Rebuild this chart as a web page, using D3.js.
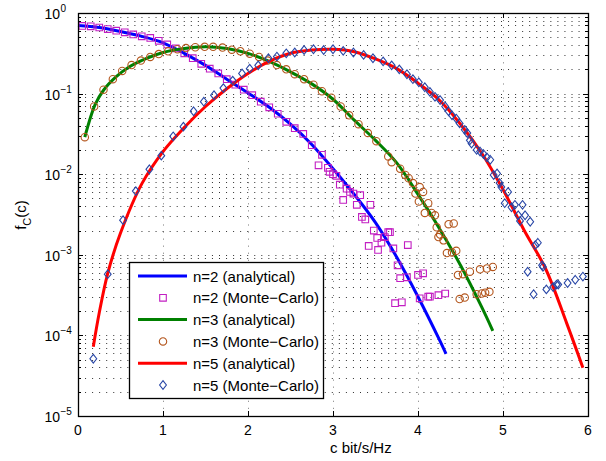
<!DOCTYPE html>
<html><head><meta charset="utf-8">
<script src="https://cdn.jsdelivr.net/npm/d3@7"></script>
<style>body{margin:0;background:#fff} text{font-family:"Liberation Sans",Arial,Helvetica,sans-serif;fill:#000}</style>
</head><body><svg id="c" width="606" height="461"></svg>
<script>
// ---- tick labels ----
const xTickValues = [0,1,2,3,4,5,6];
const xTickLabels = ["0","1","2","3","4","5","6"];
const yTickExps = [0,-1,-2,-3,-4,-5];
const xLabel = "c bit/s/Hz";
const legendLabels = ["n=2 (analytical)","n=2 (Monte\u2212Carlo)","n=3 (analytical)","n=3 (Monte\u2212Carlo)","n=5 (analytical)","n=5 (Monte\u2212Carlo)"];

// ---- n=2 ----
const n2AnalyticX = [0,0.25,0.5,0.75,1.0,1.25,1.5,1.75,2.0,2.25,2.5,2.75,3.0,3.25,3.5,3.75,4.0,4.25,4.33];
const n2AnalyticY = [0.700,0.661,0.589,0.513,0.427,0.316,0.224,0.151,0.102,0.0676,0.0417,0.0234,0.0117,5.62e-3,2.51e-3,9.33e-4,3.02e-4,8.91e-5,5.89e-5];
const n2McX = [0.05,0.15,0.25,0.35,0.45,0.55,0.65,0.75,0.85,0.95,1.05,1.15,1.25,1.35,1.45,1.55,1.65,1.75,1.85,1.95,2.05,2.15,2.25,2.35,2.45,2.55,2.65,2.75,
  2.83,2.87,2.94,2.96,3.00,3.04,3.08,3.12,3.16,3.20,3.24,3.28,3.32,3.34,3.38,3.42,3.44,3.48,3.52,3.53,3.57,3.61,3.65,3.67,3.71,3.73,3.76,3.79,3.81,3.87,3.88,4.00,4.02,4.06,4.12,4.14,4.24,4.32];
const n2McY = [0.692,0.684,0.661,0.631,0.603,0.575,0.543,0.513,0.490,0.452,0.407,0.363,0.316,0.275,0.234,0.204,0.178,0.151,0.129,0.112,0.0955,0.0794,0.0676,0.0562,0.0447,0.0372,0.0316,0.0229,
  0.0129,0.0174,0.0120,0.0107,0.0100,9.55e-3,7.41e-3,4.79e-3,6.61e-3,6.03e-3,5.75e-3,4.17e-3,5.50e-3,2.95e-3,2.75e-3,1.29e-3,4.17e-3,2.00e-3,1.62e-3,1.15e-3,1.41e-3,1.66e-3,1.91e-3,1.91e-3,1.20e-3,2.51e-4,7.41e-4,5.13e-4,2.57e-4,5.25e-4,1.32e-3,5.62e-4,2.88e-4,5.89e-4,3.02e-4,3.02e-4,3.16e-4,3.31e-4];

// ---- n=3 ----
const n3AnalyticX = [0.08,0.2,0.3,0.45,0.6,0.8,1.0,1.25,1.5,1.75,2.0,2.25,2.5,2.75,3.0,3.25,3.5,3.75,4.0,4.25,4.5,4.75,4.88];
const n3AnalyticY = [0.0288,0.0724,0.110,0.162,0.214,0.272,0.324,0.363,0.380,0.363,0.316,0.251,0.186,0.132,0.0851,0.0468,0.0263,0.0138,5.62e-3,2.14e-3,7.41e-4,2.24e-4,1.14e-4];
const n3McX = [0.08,0.19,0.30,0.41,0.52,0.63,0.74,0.85,0.95,1.06,1.17,1.27,1.38,1.49,1.59,1.70,1.81,1.91,2.02,2.13,2.23,2.34,2.45,2.55,2.66,2.77,2.87,2.98,3.09,3.19,3.30,3.41,3.51,
  3.65,3.69,3.79,3.85,3.89,3.94,3.97,4.01,4.02,4.06,4.08,4.12,4.16,4.20,4.22,4.24,4.26,4.30,4.34,4.36,4.40,4.42,4.45,4.47,4.49,4.53,4.55,4.61,4.69,4.73,4.75,4.79,4.81,4.84,4.88];
const n3McY = [0.0288,0.0692,0.112,0.151,0.191,0.226,0.257,0.285,0.309,0.335,0.355,0.367,0.376,0.380,0.380,0.372,0.351,0.335,0.313,0.285,0.257,0.226,0.200,0.174,0.151,0.129,0.107,0.0891,0.0692,0.0537,0.0417,0.0324,0.0257,
  0.0166,0.0141,0.0117,9.77e-3,8.91e-3,7.76e-3,5.75e-3,4.57e-3,6.92e-3,6.03e-3,3.31e-3,4.37e-3,3.31e-3,3.09e-3,2.19e-3,1.66e-3,1.78e-3,1.51e-3,1.05e-3,2.40e-3,1.07e-3,2.45e-3,1.12e-3,5.62e-4,2.82e-4,5.75e-4,2.95e-4,6.17e-4,3.24e-4,6.61e-4,3.31e-4,3.39e-4,6.76e-4,3.47e-4,7.08e-4];

// ---- n=5 ----
const n5AnalyticX = [0.18,0.25,0.35,0.5,0.75,1.0,1.25,1.5,1.75,2.0,2.25,2.5,2.75,3.0,3.25,3.5,3.75,4.0,4.25,4.5,4.75,5.0,5.25,5.5,5.75,5.94];
const n5AnalyticY = [7.24e-5,1.91e-4,5.89e-4,1.86e-3,7.59e-3,0.0191,0.0380,0.0692,0.115,0.178,0.251,0.316,0.347,0.355,0.331,0.269,0.204,0.135,0.0832,0.0417,0.0182,6.46e-3,2.0e-3,6.76e-4,1.41e-4,3.98e-5];
const n5McX = [0.18,0.35,0.53,0.68,0.84,0.98,1.12,1.24,1.36,1.48,1.60,1.71,1.82,1.93,2.02,2.12,2.24,2.34,2.45,2.55,
  2.66,2.77,2.89,3.00,3.12,3.24,3.36,3.47,3.59,3.69,3.78,3.87,3.94,4.01,4.08,4.14,4.20,4.26,4.32,4.36,
  4.40,4.45,4.49,4.55,4.58,4.61,4.63,4.69,4.73,4.77,4.81,4.85,4.89,4.93,4.96,4.98,5.02,5.06,5.10,5.14,
  5.18,5.20,5.23,5.26,5.29,5.32,5.36,5.38,5.41,5.46,5.47,5.51,5.59,5.63,5.65,5.76,5.85,5.94];
const n5McY = [5.13e-5,5.75e-4,2.69e-3,6.17e-3,0.0115,0.0170,0.0295,0.0389,0.0603,0.0794,0.0955,0.117,0.145,0.178,0.204,0.224,0.275,0.288,0.316,0.324,
  0.347,0.355,0.347,0.355,0.339,0.324,0.302,0.275,0.251,0.224,0.200,0.174,0.151,0.138,0.120,0.105,0.0912,0.0832,0.0692,0.0603,
  0.0537,0.0490,0.0427,0.0355,0.0324,0.0263,0.0240,0.0200,0.0191,0.0178,0.0162,0.0151,9.77e-3,0.0102,7.76e-3,6.92e-3,4.37e-3,6.03e-3,3.89e-3,4.17e-3,
  3.09e-3,2.63e-3,4.17e-3,3.09e-3,6.17e-4,2.57e-3,3.24e-4,1.32e-3,1.41e-3,7.41e-4,7.08e-4,3.72e-4,3.98e-4,4.27e-4,4.27e-4,4.47e-4,4.90e-4,5.37e-4];

// ---- drawing ----
const svg = d3.select("#c");
const L=78, R=588, T=13, B=416;
const x = d3.scaleLinear().domain([0,6]).range([L,R]);
const y = d3.scaleLog().domain([1e-5,1]).range([B,T]);

svg.append("rect").attr("width",606).attr("height",461).attr("fill","#fff");

// grid: horizontal dotted at every log tick, vertical dotted at major x ticks only
const grid = svg.append("g").attr("stroke","#333").attr("stroke-width",1).attr("stroke-dasharray","1,6.05");
xTickValues.forEach(v=>{ if(v>0 && v<6){ const px=Math.round(x(v))+0.5;
  grid.append("line").attr("x1",px).attr("x2",px).attr("y1",T).attr("y2",B).attr("stroke","#777");} });
y.ticks().forEach(v=>{ if(v>1e-5 && v<1){ const py=Math.round(y(v))+0.5;
  grid.append("line").attr("x1",L).attr("x2",R).attr("y1",py).attr("y2",py);} });

// ticks
const tk = svg.append("g").attr("stroke","#000").attr("stroke-width",1);
xTickValues.forEach(v=>{ const px=Math.round(x(v))+0.5;
  tk.append("line").attr("x1",px).attr("x2",px).attr("y1",B).attr("y2",B-5);
  tk.append("line").attr("x1",px).attr("x2",px).attr("y1",T).attr("y2",T+5);});
y.ticks().forEach(v=>{ const py=Math.round(y(v))+0.5;
  const major = Math.abs(Math.log10(v)-Math.round(Math.log10(v)))<1e-9;
  const len = major?5:3;
  tk.append("line").attr("x1",L).attr("x2",L+len).attr("y1",py).attr("y2",py);
  tk.append("line").attr("x1",R).attr("x2",R-len).attr("y1",py).attr("y2",py);});

// series
const line = d3.line().x(d=>x(d[0])).y(d=>y(d[1])).curve(d3.curveCatmullRom.alpha(0.5));
const gS = svg.append("g");
function drawLine(xs,ys,color){
  gS.append("path").datum(d3.zip(xs,ys)).attr("d",line).attr("fill","none")
    .attr("stroke",color).attr("stroke-width",3).attr("stroke-linejoin","round");
}
function markerPath(type,cx,cy){
  if(type==="square") return `M${cx-3.3},${cy-3.3}h6.6v6.6h-6.6Z`;
  if(type==="circle") return `M${cx-3.7},${cy}a3.7,3.7 0 1,0 7.4,0a3.7,3.7 0 1,0 -7.4,0Z`;
  return `M${cx},${cy-4.3}L${cx+3.4},${cy}L${cx},${cy+4.3}L${cx-3.4},${cy}Z`;
}
function drawMarkers(xs,ys,type,color){
  gS.append("g").selectAll("path").data(d3.zip(xs,ys)).join("path")
    .attr("d",d=>markerPath(type,x(d[0]),y(d[1])))
    .attr("fill","none").attr("stroke",color).attr("stroke-width",1.1);
}
const cBlue="#0000ff", cGreen="#008000", cRed="#ff0000";
const cSq="#c21fc2", cCirc="#b4561d", cDia="#2846a6";
drawLine(n2AnalyticX,n2AnalyticY,cBlue);
drawMarkers(n2McX,n2McY,"square",cSq);
drawLine(n3AnalyticX,n3AnalyticY,cGreen);
drawMarkers(n3McX,n3McY,"circle",cCirc);
drawLine(n5AnalyticX,n5AnalyticY,cRed);
drawMarkers(n5McX,n5McY,"diamond",cDia);

// frame
svg.append("rect").attr("x",L+0.5).attr("y",T+0.5).attr("width",R-L).attr("height",B-T)
  .attr("fill","none").attr("stroke","#000").attr("stroke-width",1.3);

// tick labels
xTickValues.forEach((v,i)=>{
  svg.append("text").attr("x",x(v)).attr("y",435).attr("text-anchor","middle")
    .attr("font-size",14).text(xTickLabels[i]);});
yTickExps.forEach(e=>{
  const py=y(Math.pow(10,e));
  svg.append("text").attr("x",60).attr("y",py+6).attr("text-anchor","end").attr("font-size",14).text("10");
  svg.append("text").attr("x",60.5).attr("y",py-1).attr("font-size",10).text(e===0?"0":"\u2212"+Math.abs(e));
});

// axis labels
svg.append("text").attr("x",330).attr("y",453).attr("font-size",15).text(xLabel);
const yl = svg.append("text").attr("transform","translate(26,215) rotate(-90)")
  .attr("text-anchor","middle").attr("font-size",15);
yl.append("tspan").text("f");
yl.append("tspan").attr("dy",5).attr("font-size",11).text("C");
yl.append("tspan").attr("dy",-5).text("(c)");

// legend
const lg = svg.append("g");
lg.append("rect").attr("x",129.5).attr("y",262.5).attr("width",194).attr("height",136)
  .attr("fill","#fff").attr("stroke","#000").attr("stroke-width",1.3);
const legendTypes=[["line",cBlue],["square",cSq],["line",cGreen],["circle",cCirc],["line",cRed],["diamond",cDia]];
legendLabels.forEach((lab,i)=>{
  const cy = 276 + i*21.8;
  const [t,c]=legendTypes[i];
  if(t==="line") lg.append("line").attr("x1",138).attr("x2",187).attr("y1",cy).attr("y2",cy).attr("stroke",c).attr("stroke-width",3);
  else lg.append("path").attr("d",markerPath(t,163,cy)).attr("fill","none").attr("stroke",c).attr("stroke-width",1.1);
  lg.append("text").attr("x",193).attr("y",cy+5.5).attr("font-size",15).text(lab);
});
</script></body></html>
